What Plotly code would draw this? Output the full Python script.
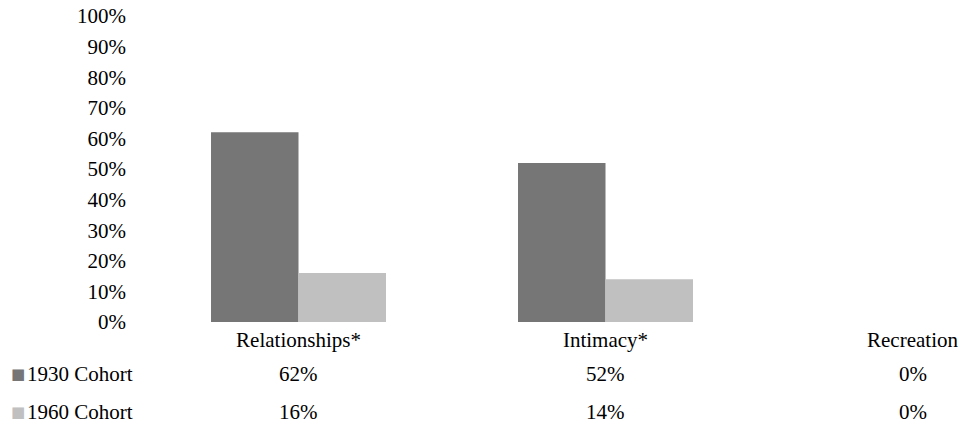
import plotly.graph_objects as go

categories = ["Relationships*", "Intimacy*", "Recreation"]
series_names = ["1930 Cohort", "1960 Cohort"]
cohort_1930 = [62, 52, 0]
cohort_1960 = [16, 14, 0]
colors = ["#767676", "#c0c0c0"]
y_ticks = [0, 10, 20, 30, 40, 50, 60, 70, 80, 90, 100]
y_tick_labels = [f"{v}%" for v in y_ticks]

FONT = "Liberation Serif, Times New Roman, serif"
FS = 21

W, H = 963, 428
ML, MR, MT, MB = 145, 0, 16, 106
plot_w = W - ML - MR
plot_h = H - MT - MB

fig = go.Figure()
all_series = [cohort_1930, cohort_1960]
x_idx = list(range(len(categories)))
for name, vals, col in zip(series_names, all_series, colors):
    fig.add_trace(go.Bar(x=x_idx, y=vals, name=name, marker_color=col,
                         marker_line_width=0, showlegend=False))

annotations = []
row_centers_px = [374, 412]
for r, (name, vals, col) in enumerate(zip(series_names, all_series, colors)):
    ypx = row_centers_px[r]
    yp = (H - MB - ypx) / plot_h
    for i, v in enumerate(vals):
        annotations.append(dict(x=i, y=yp, xref="x", yref="paper", text=f"{v}%",
                                showarrow=False, xanchor="center", yanchor="middle",
                                font=dict(family=FONT, size=FS, color="#000")))
    annotations.append(dict(x=(25 - ML) / plot_w, y=yp, xref="paper", yref="paper",
                            text=name, showarrow=False, xanchor="left", yanchor="middle",
                            font=dict(family=FONT, size=FS, color="#000")))
    annotations.append(dict(x=(9 - ML) / plot_w, y=yp, xref="paper", yref="paper",
                            text="■", showarrow=False, xanchor="left", yanchor="middle",
                            font=dict(family="DejaVu Sans", size=15, color=col)))

px_per_unit = 307
x_right = plot_w / px_per_unit - 0.5

fig.update_layout(
    width=W, height=H,
    margin=dict(l=ML, r=MR, t=MT, b=MB, pad=0),
    paper_bgcolor="white", plot_bgcolor="white",
    barmode="group", bargap=0.43, bargroupgap=0,
    font=dict(family=FONT, size=FS, color="#000"),
    xaxis=dict(tickmode="array", tickvals=x_idx, ticktext=categories,
               range=[-0.5, x_right], showgrid=False, zeroline=False,
               showline=False, ticks="", tickfont=dict(family=FONT, size=FS),
               ticklabelstandoff=3, ticklabeloverflow="allow"),
    yaxis=dict(range=[0, 100], tickmode="array", tickvals=y_ticks, ticktext=y_tick_labels,
               showgrid=False, zeroline=False, showline=False, ticks="",
               tickfont=dict(family=FONT, size=FS), ticklabelstandoff=18,
               ticklabeloverflow="allow"),
    annotations=annotations,
)

fig.write_html("out.html",
               config={"displayModeBar": False},
               post_script="document.body.style.margin='0';document.body.style.overflow='hidden';")
